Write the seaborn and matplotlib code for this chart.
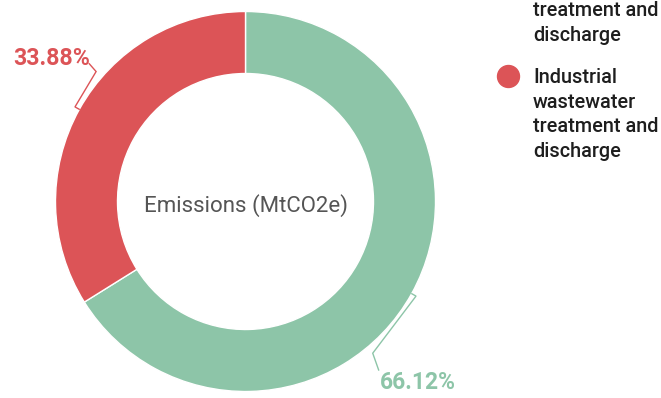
import numpy as np
import matplotlib.pyplot as plt
import seaborn as sns

# data
categories = ["Domestic wastewater treatment and discharge",
              "Industrial wastewater treatment and discharge"]
legend_labels = ["Domestic\nwastewater\ntreatment and\ndischarge",
                 "Industrial\nwastewater\ntreatment and\ndischarge"]
shares = [66.12, 33.88]
colors = ["#8dc5a8", "#dc5457"]
center_label = "Emissions (MtCO2e)"

sns.set_theme(style="white")
plt.rcParams["font.family"] = ["Roboto", "DejaVu Sans"]

W, H = 661, 398
fig = plt.figure(figsize=(W / 100, H / 100), dpi=100)
ax = fig.add_axes([0, 0, 1, 1])

# donut (pixel-like coords, y pointing down)
cx, cy, R, ring = 245.5, 201.5, 190, 62
wedges, _ = ax.pie(shares, colors=colors, radius=R, center=(cx, cy),
                   startangle=270, counterclock=True,
                   wedgeprops=dict(width=ring, edgecolor="white", linewidth=1))
ax.set_xlim(0, W)
ax.set_ylim(H, 0)
ax.set_aspect("equal")
ax.axis("off")

ax.text(cx, cy + 4, center_label, ha="center", va="center",
        fontsize=16, color="#555555")

# percentage labels with bent leader lines
bend = [21, 12]                 # degrees past the slice middle
ends = [(6, 17), (-7, -8)]      # label anchor offset from the bend
for w, share, col, b, (ex, ey) in zip(wedges, shares, colors, bend, ends):
    mid = np.deg2rad((w.theta1 + w.theta2) / 2)
    bb = mid + np.deg2rad(b)
    p0 = (cx + R * np.cos(mid), cy + R * np.sin(mid))
    p1 = (cx + (R + 5) * np.cos(mid), cy + (R + 5) * np.sin(mid))
    p2 = (cx + (R + 8) * np.cos(bb), cy + (R + 8) * np.sin(bb))
    p3 = (p2[0] + ex, p2[1] + ey)
    ax.plot([p0[0], p1[0], p2[0], p3[0]], [p0[1], p1[1], p2[1], p3[1]],
            color=col, lw=1, solid_joinstyle="miter")
    if ex > 0:
        ax.text(p3[0] + 1, p3[1] + 1, f"{share:.2f}%", ha="left", va="top",
                fontsize=16.5, fontweight="bold", color=col)
    else:
        ax.text(p3[0] + 1.5, p3[1] + 1.5, f"{share:.2f}%", ha="right", va="baseline",
                fontsize=16.7, fontweight="bold", color=col)

# legend (top entry runs off the top of the picture)
for i, (lab, col) in enumerate(zip(legend_labels, colors)):
    base = -33 + i * 116          # baseline of the first line
    ax.scatter([508], [base - 7], s=250, color=col, clip_on=False)
    ax.text(533, base - 15, lab, ha="left", va="top", fontsize=14.3,
            fontweight="medium", color="#1e1e1e", linespacing=1.37)

fig.savefig("out.png", dpi=100)
